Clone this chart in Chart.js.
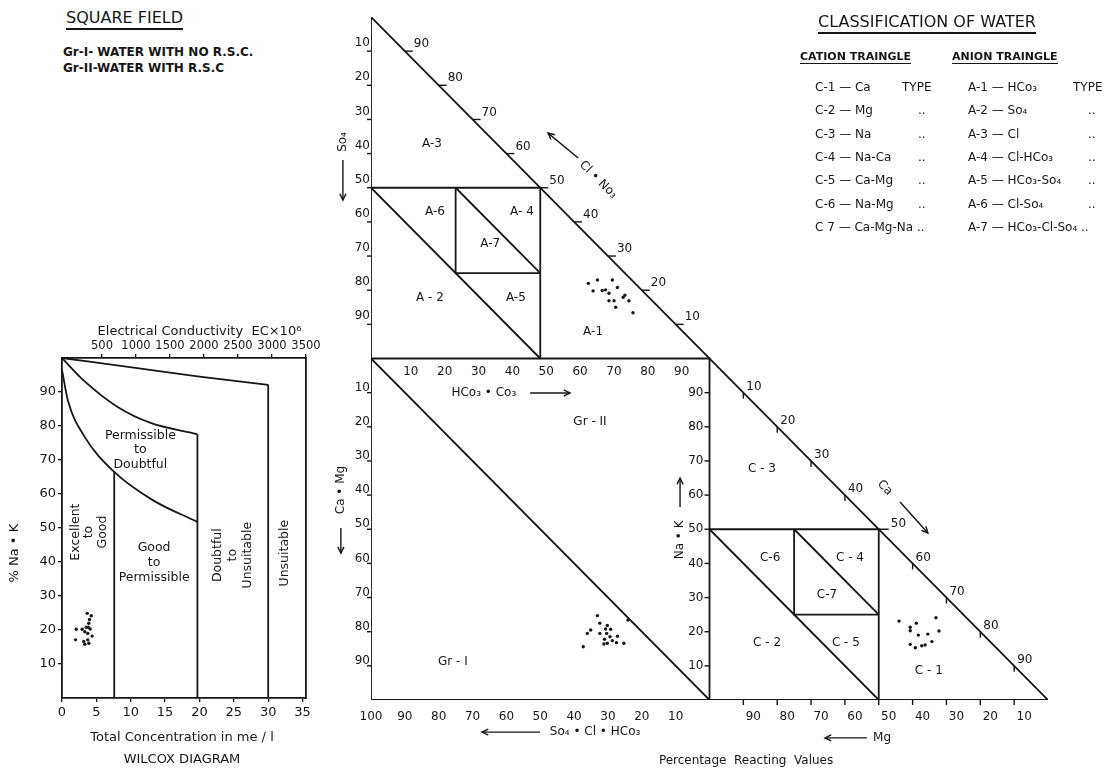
<!DOCTYPE html>
<html>
<head>
<meta charset="utf-8">
<title>Wilcox diagram and classification of water</title>
<script src="https://cdn.jsdelivr.net/npm/chart.js@4.4.1/dist/chart.umd.min.js"></script>
<style>
  body { margin:0; width:1115px; height:772px; background:#fff; position:relative; overflow:hidden;
         font-family:"DejaVu Sans", sans-serif; color:#161616; }
  canvas { position:absolute; }
  #wilcox { left:0; top:310px; }
  #piper { left:325px; top:0; }
  .t { position:absolute; white-space:nowrap; line-height:1; }
  .big { font-size:16px; border-bottom:2px solid #161616; padding-bottom:2px; }
  .note { font-size:12px; font-weight:bold; }
  .sub { font-size:11px; font-weight:bold; border-bottom:1.5px solid #161616; padding-bottom:1px; }
  .row { font-size:12px; }
</style>
</head>
<body>
<canvas id="wilcox" width="340" height="462"></canvas>
<canvas id="piper" width="790" height="772"></canvas>
<script>
const INK = '#161616';
Chart.defaults.font.family = '"DejaVu Sans", sans-serif';
Chart.defaults.color = INK;

// ---------- Wilcox diagram ----------
const concTicks = [0, 5, 10, 15, 20, 25, 30, 35];
const ecTicks = [500, 1000, 1500, 2000, 2500, 3000, 3500];
const sodiumTicks = [10, 20, 30, 40, 50, 60, 70, 80, 90];

// class boundaries (me/l , % Na+K)
const curveAConc = [0, 12.8, 20, 30.0];
const curveANa = [100, 96.5, 94.5, 92.1];
const curveBConc = [0, 3.1, 8.1, 12.9, 19.7];
const curveBNa = [100, 93.5, 85.6, 80.9, 77.6];
const curveCConc = [0, 0.85, 3.3, 7.6, 13.2, 19.7];
const curveCNa = [96.5, 87.6, 76.8, 66.5, 58.2, 51.8];
const limitConc = [7.6, 19.7, 30.0];
const limitNa = [66.5, 77.6, 92.1];

// samples
const sampleConc = [3.67, 4.25, 4.0, 3.9, 2.07, 2.94, 3.52, 3.81, 4.1, 3.32, 3.75, 4.39, 1.97, 3.17, 3.75, 3.9, 3.32];
const sampleNa = [24.9, 24.2, 23.1, 22.0, 20.2, 20.2, 20.8, 20.8, 20.3, 19.5, 19.0, 18.2, 17.1, 16.6, 17.1, 16.1, 15.8];

// ---------- square field + triangles ----------
const pctTicks = [10, 20, 30, 40, 50, 60, 70, 80, 90];
const sqBottomTicks = [100, 90, 80, 70, 60, 50, 40, 30, 20, 10];
const fieldSplit = 50;
const subSplit = 25;

const anionHCO3 = [64.2, 66.9, 71.3, 65.6, 68.3, 69.3, 70.3, 72.8, 75.0, 74.5, 76.2, 70.3, 71.8, 72.3, 77.4];
const anionCl = [22.0, 23.0, 23.0, 19.8, 19.9, 20.1, 19.1, 20.8, 18.5, 17.9, 16.9, 16.9, 16.9, 15.0, 13.4];

const squareHCO3 = [66.9, 67.6, 69.8, 70.8, 69.3, 67.6, 69.6, 64.9, 63.9, 72.8, 70.6, 69.0, 71.3, 68.8, 69.8, 72.5, 74.7, 62.7, 75.9];
const squareNaK = [24.7, 22.5, 21.8, 20.7, 20.8, 19.5, 19.5, 20.5, 19.5, 18.7, 18.5, 17.8, 17.4, 16.4, 16.6, 16.8, 16.6, 15.6, 23.4];

const cationCa = [56.0, 61.1, 66.9, 59.3, 59.3, 61.7, 64.5, 67.8, 59.3, 60.8, 62.7, 63.7, 65.7];
const cationNaK = [23.1, 22.5, 24.1, 21.3, 20.3, 19.0, 19.3, 20.2, 16.3, 15.3, 15.9, 16.1, 17.1];

// legend texts
const squareNotes = ['Gr-I- WATER WITH NO R.S.C.', 'Gr-II-WATER WITH R.S.C'];
const cationTypes = ['C-1 — Ca', 'C-2 — Mg', 'C-3 — Na', 'C-4 — Na-Ca', 'C-5 — Ca-Mg', 'C-6 — Na-Mg', 'C 7 — Ca-Mg-Na  ..'];
const anionTypes = ['A-1 — HCo₃', 'A-2 — So₄', 'A-3 — Cl', 'A-4 — Cl-HCo₃', 'A-5 — HCo₃-So₄', 'A-6 — Cl-So₄', 'A-7 — HCo₃-Cl-So₄ ..'];

// ---------- helpers ----------
function pts(xs, ys) { return xs.map((v, i) => ({x: v, y: ys[i]})); }

function lineSet(data, smooth) {
  return {
    data, showLine: true, pointRadius: 0, borderColor: INK, borderWidth: 1.8,
    tension: smooth ? 0.4 : 0, cubicInterpolationMode: smooth ? 'monotone' : 'default',
    xAxisID: 'x', yAxisID: 'y'
  };
}

function dotSet(data) {
  return { data, showLine: false, pointRadius: 1.7, backgroundColor: INK, borderWidth: 0, xAxisID: 'x', yAxisID: 'y' };
}

function txt(ctx, s, px, py, align, rot) {
  ctx.save();
  ctx.translate(px, py);
  if (rot) ctx.rotate(rot);
  ctx.textAlign = align || 'center';
  ctx.textBaseline = 'middle';
  ctx.fillText(String(s), 0, 0);
  ctx.restore();
}

function seg(ctx, x1, y1, x2, y2) {
  ctx.beginPath(); ctx.moveTo(x1, y1); ctx.lineTo(x2, y2); ctx.stroke();
}

function arrow(ctx, x1, y1, x2, y2) {
  seg(ctx, x1, y1, x2, y2);
  const a = Math.atan2(y2 - y1, x2 - x1);
  const h = 7;
  ctx.beginPath();
  ctx.moveTo(x2 - h * Math.cos(a - 0.45), y2 - h * Math.sin(a - 0.45));
  ctx.lineTo(x2, y2);
  ctx.lineTo(x2 - h * Math.cos(a + 0.45), y2 - h * Math.sin(a + 0.45));
  ctx.stroke();
}

function stack(ctx, lines, px, py, lh, rot) {
  ctx.save();
  ctx.translate(px, py);
  if (rot) ctx.rotate(rot);
  lines.forEach((t, i) => txt(ctx, t, 0, (i - (lines.length - 1) / 2) * lh));
  ctx.restore();
}

// ---------- Wilcox chart ----------
const wilcoxText = {
  id: 'wilcoxText',
  afterDatasetsDraw(chart) {
    const {ctx, chartArea: a, scales: {x, y}} = chart;
    const X = v => x.getPixelForValue(v), Y = v => y.getPixelForValue(v);
    ctx.save();
    ctx.fillStyle = INK;
    ctx.font = '12.5px "DejaVu Sans"';
    stack(ctx, ['Permissible', 'to', 'Doubtful'], X(11.4), Y(72.9), 14.5);
    stack(ctx, ['Good', 'to', 'Permissible'], X(13.4), Y(39.7), 15);
    stack(ctx, ['Excellent', 'to', 'Good'], X(3.9), Y(48.8), 13.5, -Math.PI / 2);
    stack(ctx, ['Doubtful', 'to', 'Unsuitable'], X(24.8), Y(42), 15, -Math.PI / 2);
    stack(ctx, ['Unsuitable'], X(32.4), Y(42.6), 15, -Math.PI / 2);
    ctx.font = '13px "DejaVu Sans"';
    txt(ctx, '% Na • K', a.left - 47, Y(42.6), 'center', -Math.PI / 2);
    txt(ctx, 'Total Concentration in me / l', (a.left + a.right) / 2 - 2, a.bottom + 40);
    txt(ctx, 'WILCOX DIAGRAM', (a.left + a.right) / 2 - 2, a.bottom + 62);
    txt(ctx, 'Electrical Conductivity  EC×10⁶', X(20), a.top - 26);
    ctx.restore();
  }
};

const axisStyle = {
  grid: { drawOnChartArea: false, tickLength: 4, color: INK, lineWidth: 1.3 },
  border: { color: INK, width: 1.8 },
};

new Chart(document.getElementById('wilcox'), {
  type: 'scatter',
  data: {
    datasets: [
      lineSet(pts(curveAConc, curveANa), true),
      lineSet(pts(curveBConc, curveBNa), true),
      lineSet(pts(curveCConc, curveCNa), true),
      ...limitConc.map((c, i) => lineSet([{x: c, y: limitNa[i]}, {x: c, y: 0}], false)),
      dotSet(pts(sampleConc, sampleNa))
    ]
  },
  options: {
    responsive: false, animation: false, events: [],
    layout: { padding: { left: 0, right: 34, top: 0, bottom: 0 } },
    plugins: { legend: { display: false }, tooltip: { enabled: false } },
    scales: {
      x: {
        type: 'linear', position: 'bottom', min: 0, max: 35.5, ...axisStyle,
        afterBuildTicks: s => { s.ticks = concTicks.map(v => ({value: v})); },
        afterFit: s => { s.height = 74; },
        ticks: { color: INK, font: { size: 13 }, padding: 3, maxRotation: 0, autoSkip: false, callback: v => String(v) }
      },
      x2: {
        type: 'linear', position: 'top', min: -88, max: 3500, ...axisStyle,
        afterBuildTicks: s => { s.ticks = ecTicks.map(v => ({value: v})); },
        afterFit: s => { s.height = 48; },
        ticks: { color: INK, font: { size: 11.5 }, padding: 1, maxRotation: 0, autoSkip: false, callback: v => String(v) }
      },
      y: {
        type: 'linear', position: 'left', min: 0, max: 100, ...axisStyle,
        afterBuildTicks: s => { s.ticks = sodiumTicks.map(v => ({value: v})); },
        afterFit: s => { s.width = 62; },
        ticks: { color: INK, font: { size: 13 }, padding: 2, autoSkip: false, callback: v => String(v) }
      },
      y2: {
        type: 'linear', position: 'right', min: 0, max: 100,
        grid: { display: false }, ticks: { display: false },
        border: { color: INK, width: 1.8 },
        afterFit: s => { s.width = 0; }
      }
    }
  },
  plugins: [wilcoxText]
});

// ---------- square field and triangles ----------
function fieldLines(ox, oy) {
  const m = fieldSplit, s = subSplit;
  return [
    [[ox, oy + m], [ox + m, oy + m], [ox + m, oy]],
    [[ox + s, oy + m], [ox + s, oy + s], [ox + m, oy + s]],
    [[ox, oy + m], [ox + m, oy]],
    [[ox + s, oy + m], [ox + m, oy + s]]
  ];
}

const outline = [
  [[0, 100], [0, 200], [200, 0]],
  [[0, 100], [0, 0], [100, 0], [100, 100], [0, 100]],
  [[100, 0], [200, 0]],
  [[0, 100], [100, 0]],
  ...fieldLines(0, 100),
  ...fieldLines(100, 0)
];

const piperText = {
  id: 'piperText',
  afterDatasetsDraw(chart) {
    const {ctx, scales: {x, y}} = chart;
    const P = (a, b) => [x.getPixelForValue(a), y.getPixelForValue(b)];
    ctx.save();
    ctx.fillStyle = INK;
    ctx.strokeStyle = INK;
    ctx.lineWidth = 1.4;
    ctx.font = '12px "DejaVu Sans"';

    pctTicks.forEach(v => {
      let px, py;
      // anion left edge: So4
      [px, py] = P(0, 200 - v);
      seg(ctx, px - 4, py, px, py);
      txt(ctx, v, px - 1, py - 8, 'right');
      // square left edge: Ca + Mg
      [px, py] = P(0, 100 - v);
      seg(ctx, px - 4, py, px, py);
      txt(ctx, v, px - 1, py - 5, 'right');
      // square top: HCo3 + Co3
      [px, py] = P(v, 100);
      txt(ctx, v, px + 6, py + 13);
      // square right: Na + K
      [px, py] = P(100, v);
      seg(ctx, px - 5, py, px, py);
      txt(ctx, v, px - 6, py, 'right');
      // anion hypotenuse: Cl + No3
      [px, py] = P(100 - v, 100 + v);
      seg(ctx, px, py, px + 8, py);
      txt(ctx, v, px + 9, py - 7, 'left');
      // cation hypotenuse: Ca
      [px, py] = P(100 + v, 100 - v);
      if (v === 50) { seg(ctx, px, py, px + 10, py); txt(ctx, v, px + 12, py - 5, 'left'); }
      else { seg(ctx, px, py, px, py + 6); txt(ctx, v, px + 3, py - 6, 'left'); }
      // cation bottom: Mg
      [px, py] = P(200 - v, 0);
      seg(ctx, px, py, px, py + 5);
      txt(ctx, v, px + 10, py + 17);
    });
    sqBottomTicks.forEach(v => {
      const [px, py] = P(100 - v, 0);
      txt(ctx, v, px, py + 17);
    });

    // field names
    [['A-3', 18.0, 162.8], ['A-6', 18.9, 142.9], ['A- 4', 44.6, 142.9], ['A-7', 35.2, 133.5],
     ['A - 2', 17.4, 117.7], ['A-5', 42.8, 117.7], ['A-1', 65.6, 107.8],
     ['Gr - II', 64.7, 81.4], ['Gr - I', 24.2, 11.1],
     ['C - 3', 115.5, 67.6], ['C-6', 117.9, 41.6], ['C - 4', 141.5, 41.6], ['C-7', 134.7, 30.7],
     ['C - 2', 117.0, 16.7], ['C - 5', 140.3, 16.7], ['C - 1', 164.8, 8.5]]
      .forEach(([t, a, b]) => { const [px, py] = P(a, b); txt(ctx, t, px, py); });

    // axis names with arrows
    let p, q;
    p = P(35.7, 89.9); txt(ctx, 'HCo₃ • Co₃', p[0] - 8, p[1]);
    p = P(47.0, 89.9); q = P(58.8, 89.9); arrow(ctx, p[0], p[1], q[0], q[1]);
    p = P(66.2, -9.4); txt(ctx, 'So₄ • Cl • HCo₃', p[0], p[1]);
    p = P(49.9, -9.4); q = P(32.8, -9.4); arrow(ctx, p[0], p[1], q[0], q[1]);
    p = P(149.8, -11.1); txt(ctx, 'Mg', p[0] + 4, p[1]);
    p = P(146.5, -11.1); q = P(134.1, -11.1); arrow(ctx, p[0], p[1], q[0], q[1]);
    p = P(110.8, -17.9); txt(ctx, 'Percentage  Reacting  Values', p[0], p[1]);
    p = P(-8.3, 163.4); txt(ctx, 'So₄', p[0], p[1], 'center', -Math.PI / 2);
    p = P(-8.3, 158.1); q = P(-8.3, 146.4); arrow(ctx, p[0], p[1], q[0], q[1]);
    p = P(-8.9, 61.5); txt(ctx, 'Ca • Mg', p[0], p[1], 'center', -Math.PI / 2);
    p = P(-8.9, 50.4); q = P(-8.9, 43.0); arrow(ctx, p[0], p[1], q[0], q[1]);
    p = P(91.3, 46.9); txt(ctx, 'Na • K', p[0], p[1], 'center', -Math.PI / 2);
    p = P(91.3, 56.5); q = P(91.3, 65.0); arrow(ctx, p[0], p[1], q[0], q[1]);
    p = P(67.1, 152.3); txt(ctx, 'Cl • No₃', p[0], p[1], 'center', Math.PI / 4);
    p = P(61.2, 158.7); q = P(52.3, 166.0); arrow(ctx, p[0], p[1], q[0], q[1]);
    p = P(151.8, 62.1); txt(ctx, 'Ca', p[0], p[1], 'center', Math.PI / 4);
    p = P(156.3, 58.0); q = P(164.5, 48.9); arrow(ctx, p[0], p[1], q[0], q[1]);
    ctx.restore();
  }
};

new Chart(document.getElementById('piper'), {
  type: 'scatter',
  data: {
    datasets: [
      ...outline.map(line => lineSet(line.map(([a, b]) => ({x: a, y: b})), false)),
      dotSet(pts(anionHCO3, anionCl.map(c => 100 + c))),
      dotSet(pts(squareHCO3, squareNaK)),
      dotSet(pts(cationCa.map(c => 100 + c), cationNaK))
    ]
  },
  options: {
    responsive: false, animation: false, events: [],
    layout: { padding: { left: 46, right: 67, top: 17, bottom: 72 } },
    plugins: { legend: { display: false }, tooltip: { enabled: false } },
    scales: {
      x: { type: 'linear', display: false, min: 0, max: 200 },
      y: { type: 'linear', display: false, min: 0, max: 200 }
    }
  },
  plugins: [piperText]
});

// ---------- text blocks ----------
function put(text, cls, left, top) {
  const d = document.createElement('div');
  d.className = 't ' + cls;
  d.style.left = left + 'px';
  d.style.top = top + 'px';
  d.textContent = text;
  document.body.appendChild(d);
}
put('SQUARE FIELD', 'big', 66, 10);
squareNotes.forEach((s, i) => put(s, 'note', 63, 46 + i * 16));
put('CLASSIFICATION  OF  WATER', 'big', 818, 14);
put('CATION  TRAINGLE', 'sub', 800, 51);
put('ANION  TRAINGLE', 'sub', 952, 51);
cationTypes.forEach((s, i) => {
  const top = 81 + i * 23.3;
  put(s, 'row', 815, top);
  put(i === 0 ? 'TYPE' : (i < 6 ? '..' : ''), 'row', i === 0 ? 902 : 918, top);
});
anionTypes.forEach((s, i) => {
  const top = 81 + i * 23.3;
  put(s, 'row', 968, top);
  put(i === 0 ? 'TYPE' : (i < 6 ? '..' : ''), 'row', i === 0 ? 1073 : 1088, top);
});
</script>
</body>
</html>
